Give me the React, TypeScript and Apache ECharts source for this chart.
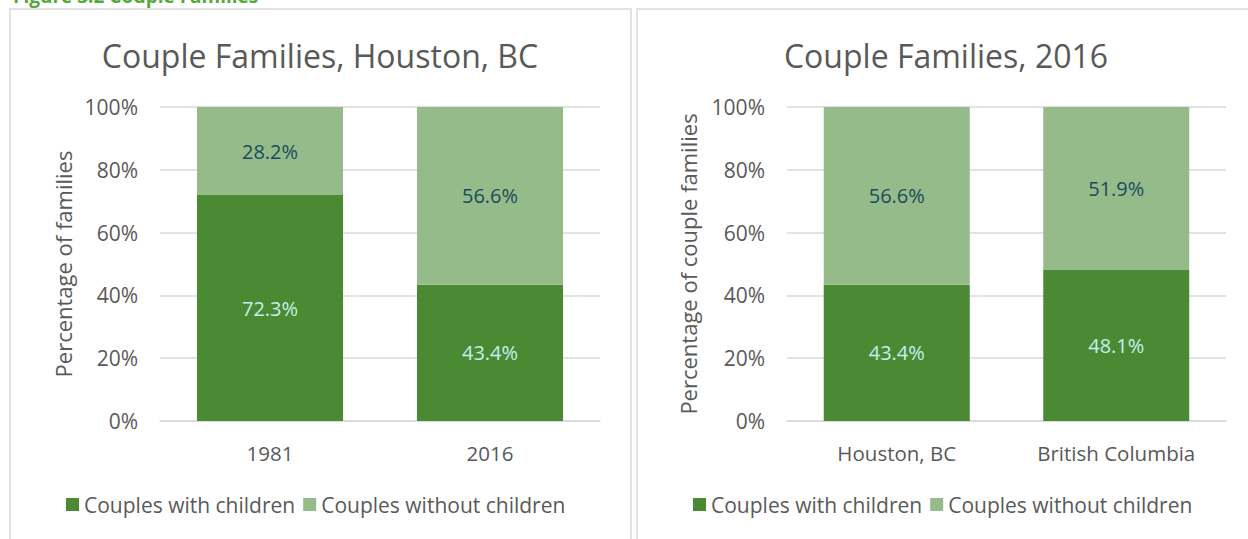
import React, { useEffect, useRef } from "react";
import * as echarts from "echarts";

const leftCategories = ["1981", "2016"];
const leftWithChildren = [72.3, 43.4];
const leftWithoutChildren = [28.2, 56.6];

const rightCategories = ["Houston, BC", "British Columbia"];
const rightWithChildren = [43.4, 48.1];
const rightWithoutChildren = [56.6, 51.9];

const yTicks = [0, 20, 40, 60, 80, 100];
const seriesNames = ["Couples with children", "Couples without children"];

const DARK = "#4a8a32";
const LIGHT = "#95bb8b";
const TXT = "#595959";
const FONT = "Open Sans";

function norm(a: number[], b: number[], i: number, which: 0 | 1) {
  const s = a[i] + b[i];
  return ((which === 0 ? a[i] : b[i]) / s) * 100;
}

export default function App() {
  const ref = useRef<HTMLDivElement>(null);
  useEffect(() => {
    if (!ref.current) return;
    const chart = echarts.init(ref.current, undefined, { renderer: "svg" });

    const makeSeries = (
      idx: number,
      with_: number[],
      without: number[],
      stack: string
    ) => [
      {
        name: seriesNames[0],
        type: "bar",
        stack,
        xAxisIndex: idx,
        yAxisIndex: idx,
        barWidth: 146,
        itemStyle: { color: DARK },
        data: with_.map((_, i) => norm(with_, without, i, 0)),
        label: {
          show: true,
          position: "inside",
          color: "#c6efef",
          fontSize: 20,
          fontFamily: FONT,
          formatter: (p: any) => with_[p.dataIndex].toFixed(1) + "%",
        },
      },
      {
        name: seriesNames[1],
        type: "bar",
        stack,
        xAxisIndex: idx,
        yAxisIndex: idx,
        barWidth: 146,
        itemStyle: { color: LIGHT },
        data: without.map((_, i) => norm(with_, without, i, 1)),
        label: {
          show: true,
          position: "inside",
          color: "#1b4b5a",
          fontSize: 20,
          fontFamily: FONT,
          formatter: (p: any) => without[p.dataIndex].toFixed(1) + "%",
        },
      },
    ];

    const yAxis = (idx: number, name: string, gap: number) => ({
      type: "value",
      gridIndex: idx,
      min: yTicks[0],
      max: yTicks[yTicks.length - 1],
      interval: 20,
      name,
      nameLocation: "middle",
      nameGap: gap,
      nameTextStyle: { color: TXT, fontSize: 22, fontFamily: FONT },
      axisLabel: {
        formatter: "{value}%",
        color: TXT,
        fontSize: 21,
        fontFamily: FONT,
        margin: 22,
      },
      axisLine: { show: false },
      axisTick: { show: false },
      splitLine: { lineStyle: { color: "#d9d9d9", width: 1.5 } },
    });

    const xAxis = (idx: number, data: string[]) => ({
      type: "category",
      gridIndex: idx,
      data,
      axisLine: { lineStyle: { color: "#d9d9d9", width: 1.5 } },
      axisTick: { show: false },
      axisLabel: { color: TXT, fontSize: 20.5, fontFamily: FONT, margin: 21 },
    });

    const legendCommon = {
      itemWidth: 13,
      itemHeight: 13,
      itemGap: 8,
      padding: 0,
      icon: "rect",
      textStyle: { color: TXT, fontSize: 21, fontFamily: FONT },
      data: seriesNames,
      top: 494,
    };

    chart.setOption({
      animation: false,
      grid: [
        { left: 160, right: 648, top: 107, bottom: 118 },
        { left: 787, right: 22, top: 107, bottom: 118 },
      ],
      xAxis: [xAxis(0, leftCategories), xAxis(1, rightCategories)],
      yAxis: [
        yAxis(0, "Percentage of families", 86),
        yAxis(1, "Percentage of couple families", 88),
      ],
      legend: [
        { ...legendCommon, left: 66 },
        { ...legendCommon, left: 693 },
      ],
      series: [
        ...makeSeries(0, leftWithChildren, leftWithoutChildren, "a"),
        ...makeSeries(1, rightWithChildren, rightWithoutChildren, "b"),
      ],
      graphic: [
        {
          type: "rect",
          shape: { x: 10, y: 9, width: 621, height: 560 },
          style: { fill: "none", stroke: "#d9d9d9", lineWidth: 1.5 },
          silent: true,
        },
        {
          type: "rect",
          shape: { x: 637, y: 9, width: 630, height: 560 },
          style: { fill: "none", stroke: "#d9d9d9", lineWidth: 1.5 },
          silent: true,
        },
        {
          type: "text",
          x: 13,
          y: 5,
          style: {
            text: "Figure 3.2 Couple Families",
            fill: "#55a83a",
            font: `bold 19px "${FONT}"`,
            textVerticalAlign: "bottom",
          },
        },
        {
          type: "text",
          x: 320,
          y: 55,
          style: {
            text: "Couple Families, Houston, BC",
            fill: TXT,
            font: `32px "${FONT}"`,
            textAlign: "center",
            textVerticalAlign: "middle",
          },
        },
        {
          type: "text",
          x: 946,
          y: 55,
          style: {
            text: "Couple Families, 2016",
            fill: TXT,
            font: `32px "${FONT}"`,
            textAlign: "center",
            textVerticalAlign: "middle",
          },
        },
      ],
    });
    return () => chart.dispose();
  }, []);
  return (
    <div
      ref={ref}
      style={{ position: "absolute", left: 0, top: 0, width: 1248, height: 539 }}
    />
  );
}
